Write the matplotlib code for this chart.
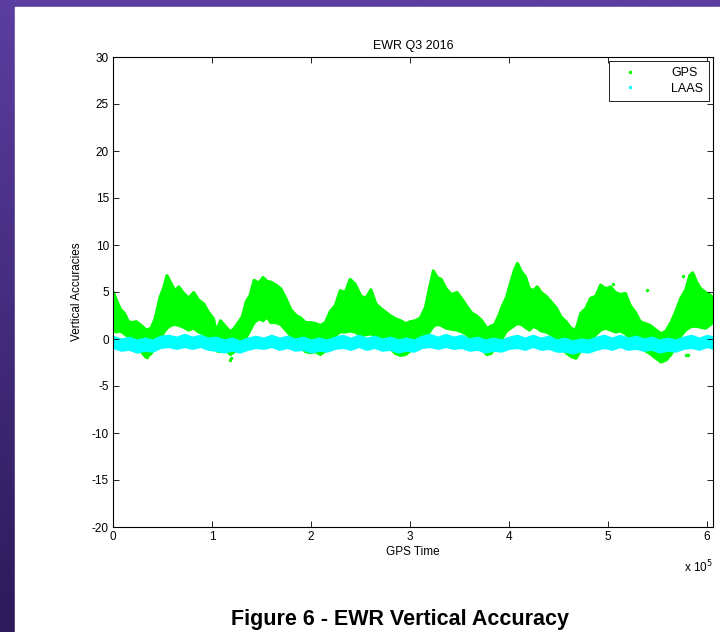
import numpy as np
import matplotlib
matplotlib.use('Agg')
from matplotlib import pyplot as plt
from matplotlib.lines import Line2D
from matplotlib.ticker import FuncFormatter

plt.rcParams['font.family'] = ['Liberation Sans', 'DejaVu Sans']
plt.rcParams['axes.unicode_minus'] = False

# GPS time in thousands of seconds, envelope of the GPS vertical error cloud
gps_time = [0, 3, 7, 11, 15, 19, 23, 28, 33, 38, 42, 47, 51, 54, 58, 62, 66, 71, 76, 81,
            86, 91, 96, 101, 104, 108, 113, 118, 122, 126, 130, 134, 138, 142, 147, 151,
            155, 159, 164, 169, 174, 179, 184, 189, 194, 199, 204, 209, 214, 219, 224,
            229, 234, 239, 244, 250, 255, 260, 265, 270, 275, 280, 285, 290, 295, 300,
            305, 310, 315, 319, 323, 327, 331, 336, 341, 347, 352, 357, 362, 367, 372,
            377, 381, 385, 389, 393, 397, 401, 405, 408, 412, 416, 420, 424, 428, 432,
            437, 442, 447, 452, 457, 462, 467, 472, 477, 482, 487, 492, 497, 502, 507,
            512, 517, 522, 527, 532, 537, 542, 548, 553, 558, 563, 568, 573, 578, 582,
            585, 589, 593, 598, 602, 605]
gps_high = [5.0, 4.2, 3.2, 2.8, 1.9, 1.8, 1.9, 1.5, 1.0, 1.2, 2.2, 4.5, 5.6, 6.8, 6.0, 5.2,
            5.6, 4.9, 4.4, 5.0, 4.2, 3.8, 2.9, 2.2, 0.8, 2.0, 1.4, 0.8, 1.2, 1.8, 2.4, 4.0,
            4.7, 6.3, 6.0, 6.6, 6.2, 6.1, 5.8, 5.4, 4.4, 3.2, 2.6, 2.3, 1.8, 1.8, 1.7, 1.5,
            1.8, 3.0, 3.6, 5.2, 5.0, 6.4, 5.9, 4.6, 4.4, 5.3, 3.8, 3.3, 2.9, 2.5, 2.2, 2.0,
            1.7, 1.9, 2.0, 2.3, 3.4, 5.4, 7.3, 6.6, 6.4, 5.4, 4.8, 5.0, 4.3, 3.5, 2.8, 2.5,
            2.0, 1.2, 1.4, 1.6, 2.5, 3.6, 4.5, 6.0, 7.4, 8.1, 7.2, 6.7, 5.4, 5.2, 5.6, 5.0,
            4.6, 4.0, 3.4, 2.4, 1.9, 1.2, 1.0, 2.8, 3.3, 4.4, 4.6, 5.8, 5.4, 5.6, 5.0, 4.8,
            4.9, 3.6, 2.9, 1.9, 1.7, 1.5, 1.0, 0.6, 0.9, 1.8, 3.0, 4.4, 5.3, 6.8, 7.1, 6.1,
            5.4, 5.0, 4.8, 4.5]
gps_low = [0.9, 0.8, 0.9, 0.6, 0.3, -0.8, -1.2, -1.3, -1.9, -1.5, -0.8, 0.0, 0.8, 1.2, 1.5,
           1.6, 1.5, 1.3, 1.0, 1.2, 0.8, 0.6, 0.1, -0.6, -1.2, -1.3, -1.0, -1.6, -1.3, -0.9,
           -0.5, 0.2, 1.0, 1.8, 2.2, 2.0, 2.4, 1.8, 1.8, 1.6, 1.0, 0.4, -0.3, -0.8, -1.3,
           -1.4, -1.3, -1.6, -1.2, -0.1, 0.4, 0.8, 0.8, 0.9, 0.8, 0.4, 0.5, 0.6, 0.3, 0.1,
           -0.3, -1.0, -1.5, -1.7, -1.6, -1.2, -0.4, 0.0, 0.3, 0.8, 1.4, 1.6, 1.5, 1.2, 1.1,
           1.0, 0.8, 0.5, 0.0, -0.5, -1.0, -1.6, -1.5, -1.0, -0.5, 0.2, 0.9, 1.2, 1.5, 1.7,
           1.6, 1.3, 1.0, 1.4, 1.2, 0.9, 0.8, 0.5, 0.0, -0.8, -1.4, -1.8, -2.0, -1.2, -0.8,
           0.0, 0.5, 1.0, 1.2, 1.0, 0.8, 0.9, 0.6, 0.2, -0.2, -0.8, -1.2, -1.5, -2.0, -2.4,
           -2.2, -1.6, -0.6, 0.4, 1.0, 1.3, 1.4, 1.4, 1.3, 1.2, 1.5, 1.8]

# isolated GPS points outside the main cloud
gps_out_time = [34, 118, 119, 505, 539, 576, 579, 581]
gps_out_val = [-1.9, -2.2, -2.0, 5.9, 5.2, 6.7, -1.7, -1.7]

# LAAS band
laas_time = [0, 8, 16, 24, 32, 40, 48, 56, 64, 72, 80, 88, 96, 104, 112, 120, 128, 136, 144,
             152, 160, 168, 176, 184, 192, 200, 208, 216, 224, 232, 240, 248, 256, 264, 272,
             280, 288, 296, 304, 312, 320, 328, 336, 344, 352, 360, 368, 376, 384, 392, 400,
             408, 416, 424, 432, 440, 448, 456, 464, 472, 480, 488, 496, 504, 512, 520, 528,
             536, 544, 552, 560, 568, 576, 584, 592, 600, 606]
laas_high = [0.3, 0.0, 0.2, -0.1, 0.1, -0.1, 0.3, 0.4, 0.2, 0.5, 0.2, 0.4, 0.1, 0.2, -0.1,
             0.1, -0.2, 0.1, 0.3, 0.1, 0.4, 0.1, 0.3, 0.0, 0.2, -0.1, 0.1, -0.1, 0.2, 0.4,
             0.1, 0.4, 0.1, 0.3, 0.0, 0.2, -0.1, 0.1, -0.1, 0.3, 0.5, 0.2, 0.5, 0.2, 0.4,
             0.0, 0.2, -0.1, 0.1, -0.1, 0.2, 0.4, 0.1, 0.4, 0.1, 0.3, -0.1, 0.1, -0.2, 0.0,
             -0.1, 0.2, 0.4, 0.1, 0.4, 0.1, 0.3, 0.0, 0.2, -0.1, 0.1, -0.1, 0.2, 0.4, 0.1,
             0.4, 0.2]
laas_low = [-0.9, -1.2, -1.1, -1.4, -1.2, -1.3, -0.9, -0.8, -1.0, -0.8, -1.0, -0.8, -1.1,
            -1.2, -1.4, -1.2, -1.4, -1.1, -0.9, -1.0, -0.8, -1.1, -0.9, -1.2, -1.1, -1.4,
            -1.2, -1.3, -1.0, -0.9, -1.1, -0.8, -1.1, -0.9, -1.2, -1.1, -1.4, -1.2, -1.3,
            -0.9, -0.8, -1.0, -0.8, -1.0, -0.9, -1.2, -1.1, -1.4, -1.2, -1.3, -1.0, -0.9,
            -1.1, -0.8, -1.1, -1.0, -1.3, -1.3, -1.5, -1.3, -1.4, -1.1, -0.9, -1.1, -0.8,
            -1.1, -1.0, -1.2, -1.1, -1.4, -1.2, -1.3, -1.0, -0.9, -1.1, -0.8, -1.0]

green = '#00ff00'
cyan = '#00ffff'

fig = plt.figure(figsize=(7.2, 6.32), dpi=100)

# purple slide background with white page
bg = fig.add_axes([0, 0, 1, 1], zorder=-10)
grad = np.linspace(0, 1, 256).reshape(-1, 1)
bg.imshow(grad, extent=[0, 1, 0, 1], aspect='auto', cmap=matplotlib.colors.LinearSegmentedColormap.from_list('p', ['#5b3ea0', '#2c1a5a']))
bg.add_patch(plt.Rectangle((15 / 720, 0), 1, 1 - 7 / 632, color='white'))
bg.set_xlim(0, 1)
bg.set_ylim(0, 1)
bg.axis('off')

ax = fig.add_axes([113 / 720, 1 - 527 / 632, 600 / 720, 470 / 632])
t_gps = np.array(gps_time) * 1e3
t_laas = np.array(laas_time) * 1e3
ax.fill_between(t_gps, gps_low, gps_high, color=green, lw=2.2, edgecolor=green)
ax.scatter(np.array(gps_out_time) * 1e3, gps_out_val, s=6, color=green, lw=0)
ax.fill_between(t_laas, laas_low, laas_high, color=cyan, lw=1.5, edgecolor=cyan)

ax.set_xlim(0, 6.06e5)
ax.set_ylim(-20, 30)
ax.set_yticks(range(-20, 31, 5))
ax.set_xticks([0, 1e5, 2e5, 3e5, 4e5, 5e5, 6e5])
ax.xaxis.set_major_formatter(FuncFormatter(lambda v, p: '%d' % round(v / 1e5)))
ax.tick_params(direction='in', top=True, right=True, length=4, width=0.6, labelsize=8.5, pad=3)
for s in ax.spines.values():
    s.set_linewidth(0.8)
ax.set_title('EWR Q3 2016', fontsize=9, pad=6)
ax.set_xlabel('GPS Time', fontsize=8.5, labelpad=2)
ax.set_ylabel('Vertical Accuracies', fontsize=8.5, labelpad=6)
ax.text(1.0, -0.085, r'x 10$^5$', transform=ax.transAxes, ha='right', va='center', fontsize=8.5)

handles = [Line2D([], [], ls='none', marker='.', ms=3, color=green),
           Line2D([], [], ls='none', marker='.', ms=3, color=cyan)]
leg = ax.legend(handles, ['GPS', 'LAAS'], loc='upper right', fontsize=9, fancybox=False,
                edgecolor='black', framealpha=1, borderpad=0.5, handletextpad=2.0,
                handlelength=2.5, labelspacing=0.3, borderaxespad=0.3)
leg.get_frame().set_linewidth(0.6)

fig.text(0.555, 1 - 619 / 632, 'Figure 6 - EWR Vertical Accuracy', ha='center', va='center',
         fontsize=15.5, fontweight='bold')

fig.savefig('out.png', dpi=100)
